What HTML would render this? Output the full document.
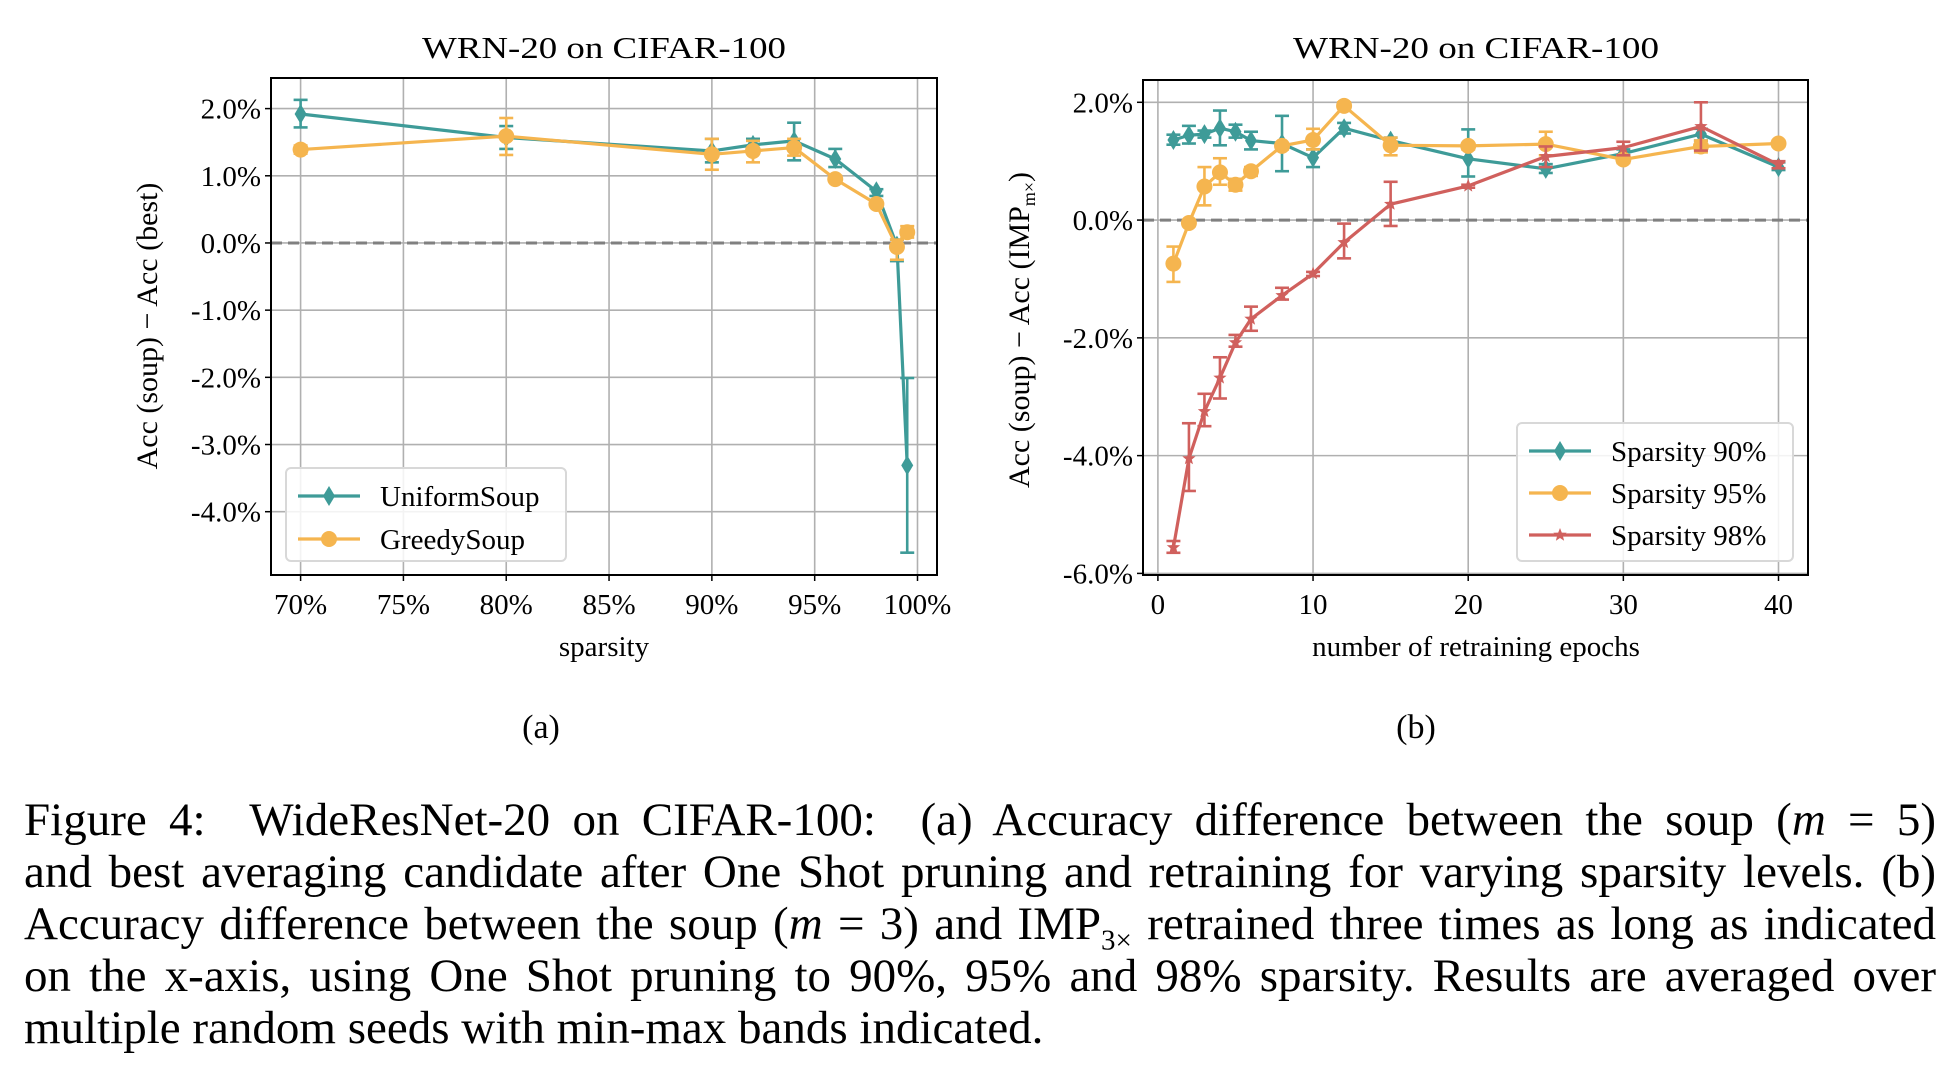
<!DOCTYPE html>
<html><head><meta charset="utf-8">
<style>
html,body{margin:0;padding:0;background:#fff;}
body{width:1942px;height:1076px;overflow:hidden;position:relative;font-family:"Liberation Serif",serif;}
#fig{position:absolute;left:0;top:0;}
#caption{position:absolute;left:24px;top:794px;width:1912px;font-size:47px;line-height:52px;color:#000;}
#caption .ln{display:block;text-align:justify;text-align-last:justify;white-space:nowrap;}
#caption .last{text-align-last:left;}
#caption sub{font-size:29px;line-height:0;}
</style></head><body>
<svg id="fig" width="1942" height="760" xmlns="http://www.w3.org/2000/svg"></svg>
<div id="caption"><span class="ln">Figure 4:&nbsp; WideResNet-20 on CIFAR-100:&nbsp; (a) Accuracy difference between the soup (<i>m</i> = 5)</span><span class="ln">and best averaging candidate after One Shot pruning and retraining for varying sparsity levels. (b)</span><span class="ln">Accuracy difference between the soup (<i>m</i> = 3) and IMP<sub>3×</sub> retrained three times as long as indicated</span><span class="ln">on the x-axis, using One Shot pruning to 90%, 95% and 98% sparsity. Results are averaged over</span><span class="ln last">multiple random seeds with min-max bands indicated.</span></div>
<script>
// ---- Chart (a) data ----
const aSparsity=[70,80,90,92,94,96,98,99,99.5];
const aUniform=[1.92,1.57,1.37,1.46,1.52,1.25,0.77,-0.04,-3.31];
const aUniformLo=[1.72,1.40,1.20,1.38,1.23,1.13,0.70,-0.27,-4.61];
const aUniformHi=[2.13,1.74,1.55,1.55,1.79,1.40,0.80,0.05,-2.01];
const aGreedy=[1.39,1.59,1.32,1.37,1.42,0.95,0.58,-0.06,0.16];
const aGreedyLo=[1.33,1.31,1.09,1.20,1.30,0.93,0.55,-0.25,0.08];
const aGreedyHi=[1.45,1.86,1.55,1.52,1.55,1.00,0.63,0.05,0.25];
const aXTicks=[70,75,80,85,90,95,100];
const aYTicks=[2,1,0,-1,-2,-3,-4];
// ---- Chart (b) data ----
const bEpochs=[1,2,3,4,5,6,8,10,12,15,20,25,30,35,40];
const b90=[1.36,1.44,1.46,1.56,1.50,1.35,1.30,1.06,1.56,1.35,1.04,0.87,1.13,1.46,0.90];
const b90Lo=[1.28,1.30,1.40,1.27,1.40,1.20,0.83,0.90,1.47,1.30,0.74,0.80,1.05,1.35,0.85];
const b90Hi=[1.45,1.60,1.52,1.86,1.62,1.50,1.77,1.20,1.65,1.40,1.54,0.95,1.20,1.55,0.98];
const b95=[-0.74,-0.05,0.57,0.81,0.60,0.83,1.26,1.36,1.94,1.27,1.26,1.29,1.03,1.25,1.30];
const b95Lo=[-1.05,-0.10,0.25,0.60,0.50,0.75,1.20,1.20,1.90,1.10,1.20,1.10,0.97,1.15,1.25];
const b95Hi=[-0.45,0.00,0.90,1.05,0.70,0.90,1.30,1.55,2.00,1.40,1.30,1.50,1.10,1.35,1.35];
const b98=[-5.56,-4.05,-3.25,-2.68,-2.08,-1.68,-1.28,-0.91,-0.38,0.27,0.58,1.08,1.23,1.59,0.94];
const b98Lo=[-5.65,-4.60,-3.50,-3.03,-2.15,-1.88,-1.35,-0.95,-0.65,-0.10,0.55,0.90,1.10,1.18,0.88];
const b98Hi=[-5.45,-3.45,-2.95,-2.33,-1.95,-1.47,-1.15,-0.88,-0.06,0.65,0.60,1.25,1.33,2.00,1.00];
const bXTicks=[0,10,20,30,40];
const bYTicks=[2,0,-2,-4,-6];

const NS="http://www.w3.org/2000/svg";
const svg=document.getElementById('fig');
function el(tag,attrs,parent){const e=document.createElementNS(NS,tag);for(const k in attrs)e.setAttribute(k,attrs[k]);(parent||svg).appendChild(e);return e;}
const TEAL="#3e9b98",ORANGE="#f5b54f",RED="#d0605d";

function marker(g,type,x,y,color){
  let m;
  if(type==='diamond'){m=el('polygon',{points:`${x},${y-10} ${x+6},${y} ${x},${y+10} ${x-6},${y}`,fill:color},g);}
  else if(type==='circle'){m=el('circle',{cx:x,cy:y,r:8,fill:color},g);}
  else {let p=[];for(let i=0;i<10;i++){const r=i%2?3:7;const a=-Math.PI/2+i*Math.PI/5;p.push((x+r*Math.cos(a)).toFixed(1)+','+(y+r*Math.sin(a)).toFixed(1));}
    m=el('polygon',{points:p.join(' '),fill:color},g);}
  return m;
}

function chart(o){
  const g=el('g',{});
  
  
  const X=v=>o.x0+(v-o.xmin)/(o.xmax-o.xmin)*(o.x1-o.x0);
  const Y=v=>o.y0+(o.ymax-v)/(o.ymax-o.ymin)*(o.y1-o.y0);
  o.xticks.forEach(t=>{const l=el('line',{x1:X(t),x2:X(t),y1:o.top,y2:o.bottom,stroke:'#b0b0b0','stroke-width':1.6},g);});
  o.yticks.forEach(t=>{const l=el('line',{x1:o.left,x2:o.right,y1:Y(t),y2:Y(t),stroke:'#b0b0b0','stroke-width':1.6},g);});
  const z=el('line',{x1:o.left,x2:o.right,y1:Y(0),y2:Y(0),stroke:'#808080','stroke-width':3,'stroke-dasharray':'11,6'},g);
  
  o.series.forEach(s=>{
    const sg=el('g',{},g);
    
    
    el('polyline',{points:o.xs.map((v,i)=>X(v)+','+Y(s.v[i])).join(' '),fill:'none',stroke:s.color,'stroke-width':3.2,'stroke-linejoin':'round'},sg);
    o.xs.forEach((v,i)=>{
      const x=X(v);
      el('line',{x1:x,x2:x,y1:Y(s.lo[i]),y2:Y(s.hi[i]),stroke:s.color,'stroke-width':2.6},sg);
      el('line',{x1:x-7,x2:x+7,y1:Y(s.lo[i]),y2:Y(s.lo[i]),stroke:s.color,'stroke-width':2.6},sg);
      el('line',{x1:x-7,x2:x+7,y1:Y(s.hi[i]),y2:Y(s.hi[i]),stroke:s.color,'stroke-width':2.6},sg);
      const m=marker(sg,s.marker,x,Y(s.v[i]),s.color);
      
      
    });
  });
  const box=el('rect',{x:o.left,y:o.top,width:o.right-o.left,height:o.bottom-o.top,fill:'none',stroke:'#000','stroke-width':2},g);
  
  o.xticks.forEach(t=>{
    el('line',{x1:X(t),x2:X(t),y1:o.bottom,y2:o.bottom+6,stroke:'#000','stroke-width':1.5},g);
    const tx=el('text',{x:X(t),y:o.bottom+39,'text-anchor':'middle','font-size':29},g);
    tx.textContent=o.xfmt(t);
    
  });
  o.yticks.forEach(t=>{
    el('line',{x1:o.left-6,x2:o.left,y1:Y(t),y2:Y(t),stroke:'#000','stroke-width':1.5},g);
    const tx=el('text',{x:o.left-10,y:Y(t)+10,'text-anchor':'end','font-size':29},g);
    tx.textContent=t.toFixed(1)+'%';
    
  });
  const ti=el('text',{x:o.tx,y:58,'text-anchor':'middle','font-size':31,textLength:o.tw,lengthAdjust:'spacingAndGlyphs'},g);
  ti.textContent='WRN-20 on CIFAR-100';
  
  const xl=el('text',{x:o.tx,y:656,'text-anchor':'middle','font-size':29},g);
  xl.textContent=o.xlabel;
  
  const yl=el('text',{x:0,y:0,'text-anchor':'middle','font-size':30,transform:`translate(${o.ylx},${o.yly}) rotate(-90)`},g);
  yl.innerHTML=o.ylabel;
  
  const lg=el('g',{},g);
  
  el('rect',{x:o.lg.x,y:o.lg.y,width:o.lg.w,height:o.lg.h,rx:5,fill:'#fff','fill-opacity':0.85,stroke:'#d8d8d8','stroke-width':2},lg);
  o.series.forEach((s,i)=>{
    const cy=o.lg.y+28+i*o.lg.dy;
    const eg=el('g',{},lg);
    
    el('line',{x1:o.lg.x+12,x2:o.lg.x+74,y1:cy,y2:cy,stroke:s.color,'stroke-width':3.2},eg);
    marker(eg,s.marker,o.lg.x+43,cy,s.color);
    const t=el('text',{x:o.lg.x+94,y:cy+10,'font-size':29},eg);
    t.textContent=s.label;
  });
}

chart({name:'chart-a-sparsity',left:271,right:937,top:78,bottom:575,
  x0:300.6,x1:917.5,xmin:70,xmax:100,y0:108.6,y1:511.7,ymin:-4,ymax:2,
  xs:aSparsity,xticks:aXTicks,yticks:aYTicks,xfmt:t=>t+'%',
  tx:604,tw:364,xlabel:'sparsity',ylabel:'Acc (soup) − Acc (best)',ylx:157,yly:326,
  lg:{x:286,y:468,w:280,h:93,dy:43},
  series:[
   {name:'uniform-soup-series',label:'UniformSoup',color:TEAL,marker:'diamond',v:aUniform,lo:aUniformLo,hi:aUniformHi},
   {name:'greedy-soup-series',label:'GreedySoup',color:ORANGE,marker:'circle',v:aGreedy,lo:aGreedyLo,hi:aGreedyHi}]
});
chart({name:'chart-b-epochs',left:1143,right:1808,top:80,bottom:575,
  x0:1157.9,x1:1778.5,xmin:0,xmax:40,y0:102.3,y1:573.4,ymin:-6,ymax:2,
  xs:bEpochs,xticks:bXTicks,yticks:bYTicks,xfmt:t=>String(t),
  tx:1476,tw:366,xlabel:'number of retraining epochs',ylabel:'Acc (soup) − Acc (IMP<tspan font-size="18" dy="6">m×</tspan><tspan dy="-6">)</tspan>',ylx:1029,yly:330,
  lg:{x:1517,y:423,w:276,h:138,dy:42},
  series:[
   {name:'sparsity-90-series',label:'Sparsity 90%',color:TEAL,marker:'diamond',v:b90,lo:b90Lo,hi:b90Hi},
   {name:'sparsity-95-series',label:'Sparsity 95%',color:ORANGE,marker:'circle',v:b95,lo:b95Lo,hi:b95Hi},
   {name:'sparsity-98-series',label:'Sparsity 98%',color:RED,marker:'star',v:b98,lo:b98Lo,hi:b98Hi}]
});
const la=el('text',{x:541,y:738,'text-anchor':'middle','font-size':34});la.textContent='(a)';

const lb=el('text',{x:1416,y:738,'text-anchor':'middle','font-size':34});lb.textContent='(b)';

</script>
</body></html>
